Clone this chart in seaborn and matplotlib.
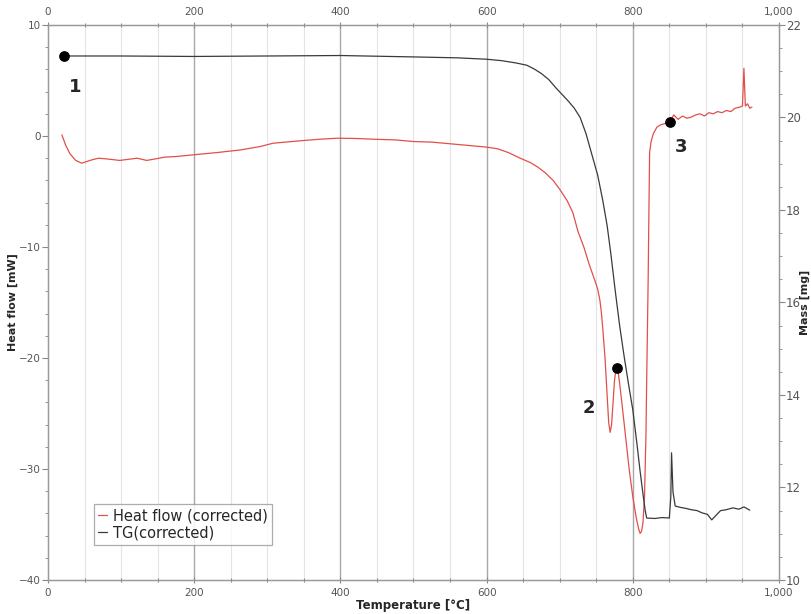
import numpy as np
import pandas as pd
import matplotlib
matplotlib.use("Agg")
import matplotlib.pyplot as plt
from matplotlib.ticker import MultipleLocator, FuncFormatter
import seaborn as sns

# ---- data ----
hf_temp = [19, 24, 30, 38, 46, 53, 60, 69, 78, 85, 98, 110, 122, 135, 148, 160, 175, 198,
           230, 263, 290, 308, 345, 370, 395, 420, 450, 475, 500, 525, 550, 575, 600, 615,
           630, 646, 660, 670, 680, 691, 700, 710, 718, 725, 733, 740, 748, 752, 755, 757, 759,
           762, 765, 767, 769, 771, 773, 775, 777, 778, 780, 782, 785, 790, 795, 800, 805,
           808, 810, 812, 814, 816, 818, 819, 820, 821, 822, 823, 825, 828, 833, 838, 843,
           848, 851, 856, 862, 868, 874, 880, 886, 892, 898, 904, 910, 916, 922, 928, 934,
           940, 946, 950, 952, 954, 957, 960, 963]
hf_value = [0.1, -0.8, -1.6, -2.2, -2.45, -2.3, -2.15, -2.0, -2.05, -2.1, -2.2, -2.1, -2.0, -2.2,
            -2.05, -1.9, -1.85, -1.7, -1.5, -1.26, -0.95, -0.65, -0.43, -0.3, -0.2, -0.22, -0.3,
            -0.35, -0.5, -0.55, -0.7, -0.85, -1.0, -1.15, -1.5, -2.0, -2.4, -2.8, -3.3, -4.0,
            -4.8, -5.8, -6.9, -8.6, -10.0, -11.5, -13.0, -13.8, -14.8, -15.9, -17.4, -20.0, -23.5,
            -25.8, -26.7, -26.0, -24.0, -22.0, -21.0, -20.9, -21.3, -22.3, -24.0, -27.0, -30.0,
            -32.5, -34.5, -35.4, -35.8, -35.6, -34.8, -32.5, -27.0, -22.0, -17.5, -13.0, -7.0,
            -1.5, -0.5, 0.2, 0.8, 1.0, 1.1, 1.2, 1.3, 1.9, 1.5, 1.8, 1.6, 1.7, 1.9, 2.0, 1.8,
            2.1, 2.0, 2.2, 2.1, 2.3, 2.2, 2.5, 2.6, 2.7, 6.1, 2.7, 2.9, 2.5, 2.6]

tg_temp = [22, 100, 200, 300, 400, 500, 560, 600, 620, 640, 655, 665, 675, 685, 696, 705,
           712, 720, 728, 736, 744, 752, 759, 765, 770, 776, 782, 788, 794, 800, 806, 810,
           814, 817, 819, 830, 840, 850, 852, 853, 855, 858, 865, 872, 880, 888, 895, 902,
           908, 914, 920, 928, 937, 945, 952, 960]
tg_mass = [21.33, 21.33, 21.32, 21.33, 21.34, 21.31, 21.29, 21.26, 21.23, 21.18, 21.13, 21.05,
           20.95, 20.82, 20.62, 20.47, 20.35, 20.2, 20.0, 19.65, 19.2, 18.75, 18.2, 17.65, 17.05,
           16.25, 15.5, 14.85, 14.25, 13.68, 12.9, 12.35, 11.85, 11.5, 11.34, 11.33, 11.35,
           11.34, 11.8, 12.75, 11.9, 11.6, 11.57, 11.55, 11.52, 11.5, 11.45, 11.42, 11.3,
           11.4, 11.5, 11.52, 11.56, 11.53, 11.58, 11.51]

marker_temp = [778, 851]
marker_hf = [-20.9, 1.3]
marker1_temp = [22]
marker1_mass = [21.33]
marker_labels = ["1", "2", "3"]

x_ticks = [0, 200, 400, 600, 800, 1000]
hf_ticks = [10, 0, -10, -20, -30, -40]
mass_ticks = [10, 12, 14, 16, 18, 20, 22]

hf_df = pd.DataFrame({"Temperature": hf_temp, "Heat flow": hf_value})
tg_df = pd.DataFrame({"Temperature": tg_temp, "Mass": tg_mass})

sns.set_style("white")
plt.rcParams['font.family'] = ['DejaVu Sans']

fig = plt.figure(figsize=(8.12, 6.14), dpi=100)
ax = fig.add_axes([48 / 812, 1 - 580 / 614, (779 - 48) / 812, (580 - 25) / 614])
ax2 = ax.twinx()

red = "#e0504a"
gray_line = "#3a3a3a"

sns.lineplot(data=hf_df, x="Temperature", y="Heat flow", ax=ax, color=red, lw=0.9,
             label="Heat flow (corrected)", legend=False)
sns.lineplot(data=tg_df, x="Temperature", y="Mass", ax=ax2, color=gray_line, lw=0.9,
             label="TG(corrected)", legend=False)

ax.set_xlim(0, 1000)
ax.set_ylim(-40, 10)
ax2.set_ylim(10, 22)

# grid
for t in range(50, 1000, 50):
    if t % 200 == 0:
        ax.axvline(t, color="#a8a8a8", lw=1.0, zorder=0)
    else:
        ax.axvline(t, color="#e4e4e4", lw=0.8, zorder=0)

fmt = FuncFormatter(lambda v, p: f"{int(v):,}")
ax.set_xticks(x_ticks)
ax.xaxis.set_major_formatter(fmt)
ax.xaxis.set_minor_locator(MultipleLocator(50))
ax.set_yticks(hf_ticks)
ax.yaxis.set_minor_locator(MultipleLocator(2))
ax2.set_yticks(mass_ticks)
ax2.yaxis.set_minor_locator(MultipleLocator(0.5))

tick_col = "#555555"
ax.tick_params(axis="x", which="both", top=True, labeltop=True, bottom=True,
               direction="inout", colors="#888888", labelcolor=tick_col, labelsize=7.5)
ax.tick_params(axis="x", which="major", length=5, width=0.8)
ax.tick_params(axis="x", which="minor", length=3, width=0.8)
ax.tick_params(axis="y", which="both", left=True, direction="out", colors="#888888",
               labelcolor=tick_col, labelsize=7.5)
ax.tick_params(axis="y", which="major", length=4, pad=1)
ax.tick_params(axis="y", which="minor", length=2)
ax2.tick_params(axis="y", which="both", right=True, direction="out", colors="#888888",
                labelcolor=tick_col, labelsize=8.5)
ax2.tick_params(axis="y", which="major", length=4, pad=1)
ax2.tick_params(axis="y", which="minor", length=2)

for a in (ax, ax2):
    for s in a.spines.values():
        s.set_color("#999999")
        s.set_linewidth(0.9)

ax.set_xlabel("Temperature [°C]", fontsize=8.5, fontweight="bold")
ax.set_ylabel("Heat flow [mW]", fontsize=8, fontweight="bold")
ax2.set_ylabel("Mass [mg]", fontsize=8, fontweight="bold", rotation=90)
ax.xaxis.set_label_coords(0.5, -0.035)
ax.yaxis.set_label_coords(-0.041, 0.5)
ax2.yaxis.set_label_coords(1.029, 0.5)

# markers and labels
ax.scatter(marker_temp, marker_hf, s=45, color="black", zorder=5)
ax2.scatter(marker1_temp, marker1_mass, s=45, color="black", zorder=5)
ax.text(37, 4.4, marker_labels[0], fontsize=13, fontweight="bold", ha="center", va="center")
ax.text(740, -24.5, marker_labels[1], fontsize=13, fontweight="bold", ha="center", va="center")
ax.text(866, -1.0, marker_labels[2], fontsize=13, fontweight="bold", ha="center", va="center")

# legend
h1, l1 = ax.get_legend_handles_labels()
h2, l2 = ax2.get_legend_handles_labels()
leg = ax.legend(h1 + h2, l1 + l2, loc="lower left", bbox_to_anchor=(0.053, 0.05),
                fontsize=10.5, frameon=True, fancybox=False, handlelength=0.6,
                handletextpad=0.4, borderpad=0.3, labelspacing=0.15)
leg.get_frame().set_edgecolor("#999999")
leg.get_frame().set_linewidth(0.9)
leg.set_zorder(10)

fig.savefig("out.png", dpi=100)
